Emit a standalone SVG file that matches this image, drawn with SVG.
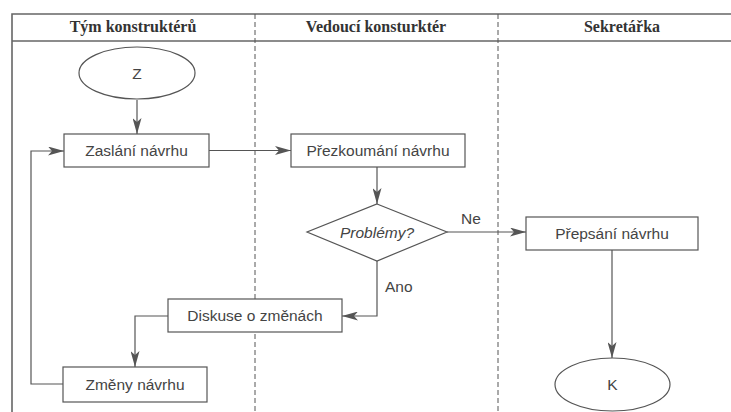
<svg xmlns="http://www.w3.org/2000/svg" width="731" height="412" viewBox="0 0 731 412">
<style>
.frame{fill:none;stroke:#666;stroke-width:1.6}
.lane{fill:none;stroke:#555;stroke-width:1;stroke-dasharray:5,3}
.hdr{font-family:"Liberation Serif",serif;font-weight:bold;font-size:16px;fill:#333;text-anchor:middle}
.box{fill:#fff;stroke:#555;stroke-width:1.2}
.txt{font-family:"Liberation Sans",Arial,sans-serif;font-size:15.5px;fill:#444;text-anchor:middle;dominant-baseline:central}
.lbl{font-family:"Liberation Sans",Arial,sans-serif;font-size:15.5px;fill:#444}
.con{fill:none;stroke:#555;stroke-width:1.2;marker-end:url(#arr)}
.seg{fill:none;stroke:#555;stroke-width:1.2}
</style>
<defs>
<marker id="arr" markerUnits="userSpaceOnUse" markerWidth="17" markerHeight="9" refX="16" refY="4.5" orient="auto">
<path d="M0,0 L16,4.5 L0,9 L4,4.5 z" fill="#555"/>
</marker>
</defs>
<rect x="0" y="0" width="731" height="412" fill="#fff"/>
<g id="lanes">
<path class="frame" d="M12,412 V14 H731"/>
<path class="frame" d="M12,41 H731"/>
<line class="lane" x1="255" y1="14" x2="255" y2="412"/>
<line class="lane" x1="498" y1="14" x2="498" y2="412"/>
<text class="hdr" x="133" y="32">Tým konstruktérů</text>
<text class="hdr" x="376" y="32">Vedoucí konsturktér</text>
<text class="hdr" x="622" y="32">Sekretářka</text>
</g>
<g id="connectors">
<path class="con" d="M137,100 V134"/>
<path class="con" d="M209,150.5 H291"/>
<path class="con" d="M377,167 V204"/>
<path class="con" d="M447,232 H526"/>
<path class="con" d="M377,261 V316 H342"/>
<path class="con" d="M168,316 H135 V367"/>
<path class="con" d="M63,384 H31 V151 H64"/>
<path class="con" d="M612,250 V358"/>
<text class="lbl" x="461" y="224">Ne</text>
<text class="lbl" x="385" y="292">Ano</text>
</g>
<g id="start">
<ellipse class="box" cx="137" cy="73" rx="58" ry="26"/>
<text class="txt" x="137" y="73">Z</text>
</g>
<g id="zaslani">
<rect class="box" x="64" y="134" width="145" height="33"/>
<text class="txt" x="136.5" y="150.5">Zaslání návrhu</text>
</g>
<g id="prezkoumani">
<rect class="box" x="291" y="134" width="174" height="33"/>
<text class="txt" x="378" y="150.5">Přezkoumání návrhu</text>
</g>
<g id="problemy">
<polygon class="box" points="377,204 447,232 377,261 307,232"/>
<text class="txt" x="377" y="232" font-style="italic">Problémy?</text>
</g>
<g id="prepsani">
<rect class="box" x="526" y="217" width="172" height="33"/>
<text class="txt" x="612" y="233.5">Přepsání návrhu</text>
</g>
<g id="diskuse">
<rect class="box" x="168" y="299" width="174" height="33"/>
<text class="txt" x="255" y="315.5">Diskuse o změnách</text>
</g>
<g id="zmeny">
<rect class="box" x="63" y="367" width="144" height="35"/>
<text class="txt" x="135" y="384.5">Změny návrhu</text>
</g>
<g id="end">
<ellipse class="box" cx="612.5" cy="384.5" rx="57.5" ry="26.5"/>
<text class="txt" x="612.5" y="384.5">K</text>
</g>
</svg>
